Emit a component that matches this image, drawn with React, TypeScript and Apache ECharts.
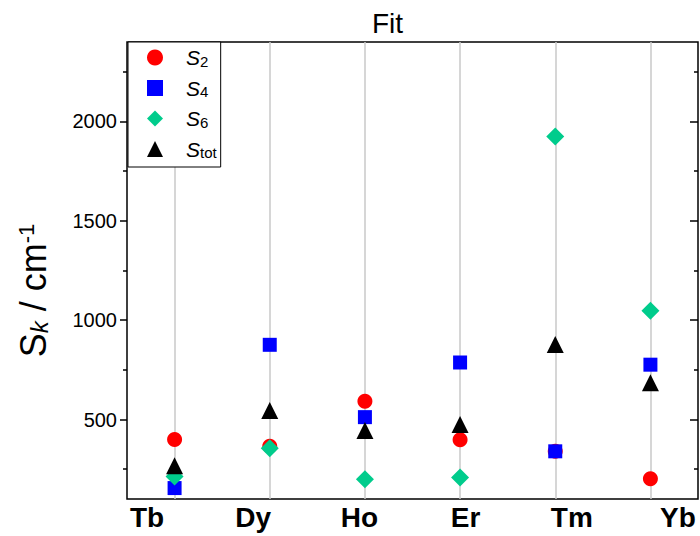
import React, { useEffect, useRef } from "react";
import * as echarts from "echarts";

const categories = ["Tb", "Dy", "Ho", "Er", "Tm", "Yb"];
const s2 = [400, 366, 592, 398, 340, 202];
const s4 = [155, 876, 512, 787, 340, 776];
const s6 = [213, 355, 200, 208, 1925, 1047];
const stot = [267, 545, 445, 475, 878, 685];
const majorTicks = [500, 1000, 1500, 2000];
const minorTicks = [250, 750, 1250, 1750, 2250];
const seriesNames = ["S2", "S4", "S6", "Stot"];

const FONT = "Arial, 'Liberation Sans', sans-serif";

export default function App() {
  const ref = useRef<HTMLDivElement>(null);
  useEffect(() => {
    if (!ref.current) return;
    const chart = echarts.init(ref.current, null, { renderer: "svg" });
    const yBase = {
      gridIndex: 0,
      type: "value",
      min: 100,
      max: 2400,
      axisLine: { show: false },
      splitLine: { show: false },
    };
    const scatter = (name: string, data: number[], symbol: string, size: number, color: string) => ({
      name,
      type: "scatter",
      xAxisIndex: 0,
      yAxisIndex: 0,
      data,
      symbol,
      symbolSize: size,
      itemStyle: { color, opacity: 1 },
      z: 3,
    });
    chart.setOption({
      animation: false,
      backgroundColor: "#fff",
      textStyle: { fontFamily: FONT },
      title: {
        text: "Fit",
        left: 367,
        top: 4,
        textStyle: { fontFamily: FONT, fontSize: 28, fontWeight: "normal", color: "#000" },
      },
      grid: [
        { left: 127, right: 2, top: 42, bottom: 37, show: true, borderColor: "#000", borderWidth: 1.5, backgroundColor: "transparent" },
        { left: 147, right: 22, top: 498, height: 1 },
      ],
      legend: {
        orient: "vertical",
        left: 128,
        top: 42,
        data: seriesNames,
        itemWidth: 16,
        itemHeight: 16,
        itemGap: 9,
        padding: [5, 4, 7, 19],
        backgroundColor: "#fff",
        borderColor: "#000",
        borderWidth: 1,
        formatter: (name: string) => `{i|S}{sub|${name.slice(1)}}`,
        textStyle: {
          padding: [0, 0, 0, 18],
          rich: {
            i: { fontFamily: FONT, fontSize: 21, fontStyle: "italic", color: "#000", lineHeight: 22 },
            sub: { fontFamily: FONT, fontSize: 15, color: "#000", verticalAlign: "bottom", lineHeight: 14 },
          },
        },
      },
      xAxis: [
        {
          gridIndex: 0,
          type: "category",
          data: categories,
          boundaryGap: true,
          axisLine: { show: false },
          axisTick: { show: false },
          axisLabel: { show: false },
          splitLine: { show: false },
        },
        {
          gridIndex: 1,
          type: "category",
          data: categories,
          boundaryGap: false,
          axisLine: { show: false },
          axisTick: { show: false },
          axisLabel: { fontFamily: FONT, fontSize: 28, fontWeight: "bold", color: "#000", margin: 4 },
          splitLine: { show: false },
        },
      ],
      yAxis: [
        {
          ...yBase,
          position: "left",
          name: "{s|S}{k|k}{t| / cm}{sup|-1}",
          nameLocation: "middle",
          nameGap: 76,
          nameTextStyle: {
            rich: {
              s: { fontFamily: FONT, fontSize: 36, color: "#000" },
              k: { fontFamily: FONT, fontSize: 24, fontStyle: "italic", color: "#000", verticalAlign: "bottom", lineHeight: 22 },
              t: { fontFamily: FONT, fontSize: 36, color: "#000" },
              sup: { fontFamily: FONT, fontSize: 22, color: "#000", verticalAlign: "top", lineHeight: 20, padding: [0, 40, 0, 0] },
            },
          },
          axisTick: { show: true, customValues: majorTicks, length: 7, lineStyle: { color: "#000", width: 1.5 } },
          axisLabel: {
            show: true,
            customValues: majorTicks,
            formatter: (v: number) => String(v),
            fontFamily: FONT,
            fontSize: 20,
            color: "#000",
            margin: 10,
          },
        },
        {
          ...yBase,
          position: "left",
          axisTick: { show: true, customValues: minorTicks, length: 4, lineStyle: { color: "#000", width: 1.5 } },
          axisLabel: { show: false },
        },
        {
          ...yBase,
          position: "right",
          axisTick: { show: true, inside: true, customValues: majorTicks, length: 8, lineStyle: { color: "#000", width: 1.5 } },
          axisLabel: { show: false },
        },
        {
          ...yBase,
          position: "right",
          axisTick: { show: true, inside: true, customValues: minorTicks, length: 4, lineStyle: { color: "#000", width: 1.5 } },
          axisLabel: { show: false },
        },
        { gridIndex: 1, type: "value", show: false },
      ],
      series: [
        {
          name: "grid",
          type: "scatter",
          xAxisIndex: 0,
          yAxisIndex: 0,
          data: [],
          z: 1,
          markLine: {
            silent: true,
            z: 1,
            symbol: ["none", "none"],
            label: { show: false },
            lineStyle: { color: "#c8c8c8", width: 1.5, type: "solid" },
            data: categories.map((c) => ({ xAxis: c })),
          },
        },
        scatter("S2", s2, "circle", 15, "#ff0000"),
        scatter("S4", s4, "rect", 14, "#0000ff"),
        scatter("S6", s6, "diamond", 18, "#00cc8c"),
        scatter("Stot", stot, "triangle", 17, "#000000"),
      ],
    });
    return () => chart.dispose();
  }, []);
  return <div ref={ref} style={{ position: "fixed", left: 0, top: 0, width: 700, height: 536 }} />;
}
